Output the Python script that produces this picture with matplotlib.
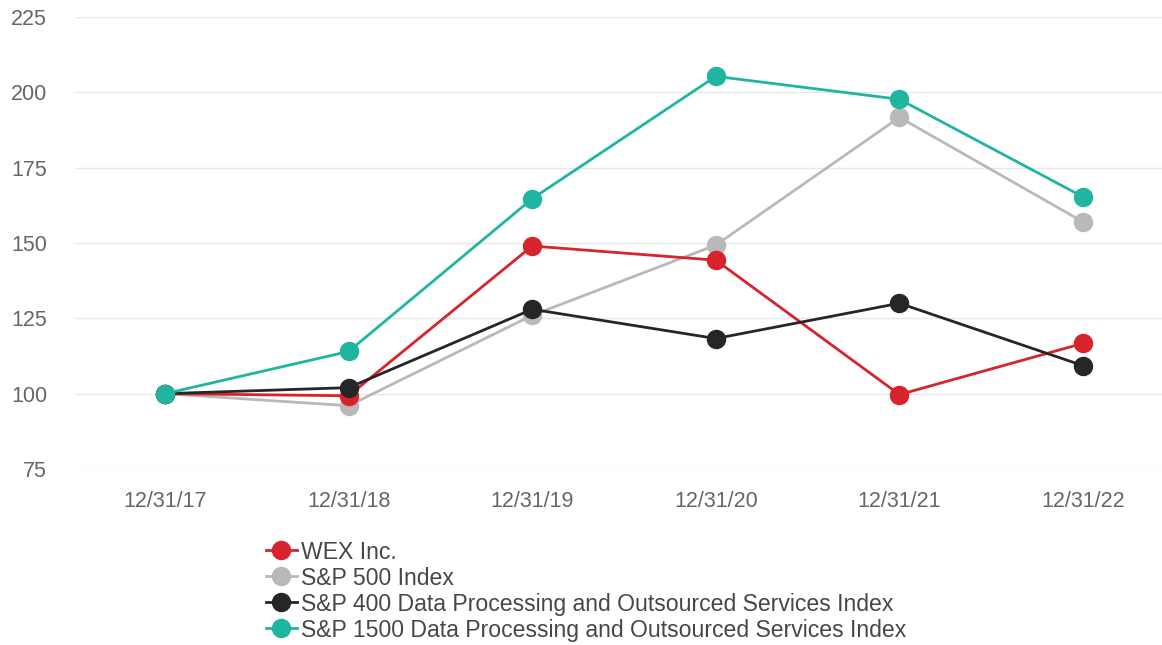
import matplotlib
matplotlib.use("Agg")
import matplotlib.pyplot as plt

# Data
dates = ["12/31/17", "12/31/18", "12/31/19", "12/31/20", "12/31/21", "12/31/22"]
wex = [100, 99.3, 149, 144.3, 99.7, 116.7]
sp500 = [100, 96, 126, 149.3, 191.7, 157]
sp400_dp = [100, 102, 128, 118.3, 130, 109.3]
sp1500_dp = [100, 114, 164.7, 205.3, 197.7, 165.3]

plt.rcParams['font.family'] = ['Liberation Sans', 'DejaVu Sans']

fig = plt.figure(figsize=(11.62, 6.45), dpi=100)
ax = fig.add_axes([75 / 1162, (645 - 469) / 645, (1162 - 75) / 1162, (469 - 17) / 645])

x = range(len(dates))
series = [
    (sp500, "S&P 500 Index", "#b9b9b9", 2),
    (wex, "WEX Inc.", "#d7232b", 3),
    (sp400_dp, "S&P 400 Data Processing and Outsourced Services Index", "#262626", 4),
    (sp1500_dp, "S&P 1500 Data Processing and Outsourced Services Index", "#20b5a0", 5),
]
handles = {}
for vals, name, col, z in series:
    h, = ax.plot(x, vals, color=col, lw=2, marker='o', ms=13, zorder=z, label=name)
    handles[name] = h

ax.set_ylim(75, 225)
ax.set_yticks([75, 100, 125, 150, 175, 200, 225])
ax.set_xlim(-0.49, 5.43)
ax.set_xticks(list(x))
ax.set_xticklabels(dates)
ax.grid(axis='y', color='#e8e8e8', lw=1)
ax.set_axisbelow(True)
for s in ax.spines.values():
    s.set_visible(False)
ax.tick_params(length=0, labelsize=15.5, colors='#666666')
ax.tick_params(axis='y', pad=20)
ax.tick_params(axis='x', pad=16)

order = ["WEX Inc.", "S&P 500 Index",
         "S&P 400 Data Processing and Outsourced Services Index",
         "S&P 1500 Data Processing and Outsourced Services Index"]
leg = fig.legend([handles[n] for n in order], order, loc='upper left',
                 bbox_to_anchor=(254 / 1162, 1 - 529 / 645), frameon=False,
                 fontsize=16.6, handlelength=1.35, handletextpad=0.2,
                 labelspacing=0.13, borderpad=0, labelcolor='#474747')

fig.savefig("out.png", dpi=100)
